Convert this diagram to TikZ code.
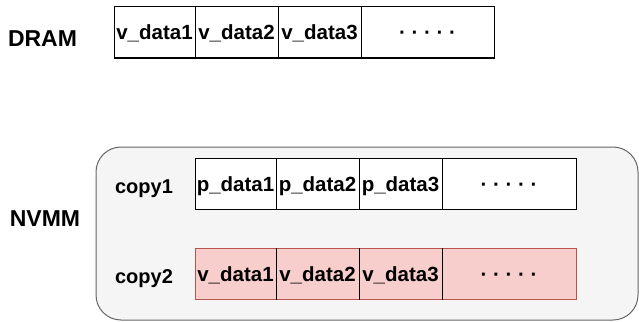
\documentclass[tikz,border=0pt]{standalone}
\usepackage{fontspec}
\setmainfont{Liberation Sans}
\usetikzlibrary{shapes}

\definecolor{nvmmfill}{HTML}{F5F5F5}
\definecolor{nvmmline}{HTML}{666666}
\definecolor{redfill}{HTML}{F8CECC}
\definecolor{redline}{HTML}{B85450}

\begin{document}
\begin{tikzpicture}[x=1pt, y=-1pt, line width=1pt,
  cell/.style={draw, inner sep=0pt, minimum height=51pt, text height=18pt, text depth=3pt,
    font=\fontsize{20.5}{20.5}\selectfont\bfseries},
  vcell/.style={cell, fill=redfill, draw=redline},
  memlabel/.style={anchor=base, font=\fontsize{23}{23}\selectfont\bfseries},
  copylabel/.style={anchor=base, font=\fontsize{20}{20}\selectfont\bfseries}]

\useasboundingbox (0,0) rectangle (639,321);

% NVMM box
\draw [color=nvmmline, fill=nvmmfill, rounded corners=25pt](96,147) rectangle (638,320);

% labels
\node[memlabel] (dram) at (42.5,47) {DRAM};
\node[memlabel] (nvmm) at (45,226) {NVMM};
\node[copylabel] (copy1) at (144,193) {copy1};
\node[copylabel] (copy2) at (144,283) {copy2};

% DRAM row
\node[cell, minimum width=81pt, fill=white] (d1) at (154.5,32.5) {v\_data1};
\node[cell, minimum width=83pt, fill=white] (d2) at (236.5,32.5) {v\_data2};
\node[cell, minimum width=83pt, fill=white] (d3) at (319.5,32.5) {v\_data3};
\node[cell, minimum width=133pt, fill=white] (d4) at (427.5,32.5) {· · · · ·};

% copy1 row
\node[cell, minimum width=81pt, fill=white] (p1) at (235.5,183.5) {p\_data1};
\node[cell, minimum width=83pt, fill=white] (p2) at (317.5,183.5) {p\_data2};
\node[cell, minimum width=83pt, fill=white] (p3) at (400.5,183.5) {p\_data3};
\node[cell, minimum width=134pt, fill=white] (p4) at (509,183.5) {· · · · ·};

% copy2 row
\node[vcell, minimum width=81pt] (v1) at (235.5,274) {v\_data1};
\node[vcell, minimum width=83pt] (v2) at (317.5,274) {v\_data2};
\node[vcell, minimum width=83pt] (v3) at (400.5,274) {v\_data3};
\node[vcell, minimum width=134pt] (v4) at (509,274) {· · · · ·};
% inner separators of copy2 are black
\draw (v1.north east) -- (v1.south east);
\draw (v2.north east) -- (v2.south east);
\draw (v3.north east) -- (v3.south east);

\end{tikzpicture}
\end{document}
